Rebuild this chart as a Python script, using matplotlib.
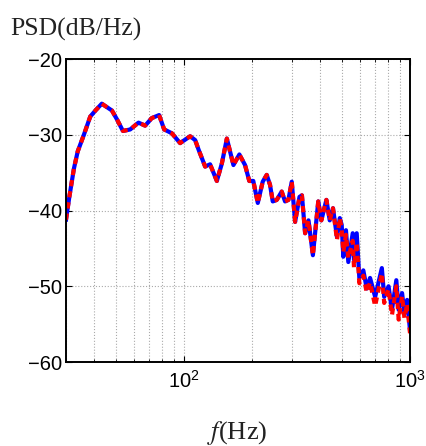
import numpy as np
import matplotlib
matplotlib.use("Agg")
import matplotlib.pyplot as plt
from matplotlib.ticker import LogLocator, FixedLocator, NullFormatter

plt.rcParams["font.family"] = ["Liberation Sans", "DejaVu Sans"]
plt.rcParams["mathtext.fontset"] = "custom"
plt.rcParams["mathtext.rm"] = "Liberation Sans"
plt.rcParams["mathtext.it"] = "Liberation Sans:italic"

# frequency (Hz) and PSD (dB/Hz)
freq_hz = [30.0, 31.0, 32.5, 33.8, 36.0, 38.4, 40.5, 43.2, 47.9, 50.5,
           53.6, 57.7, 62.8, 67.2, 71.9, 77.5, 81.6, 88.2, 96.0, 106.3,
           111.9, 116.0, 123.9, 130.3, 139.6, 146.9, 154.6, 165.3, 175.6, 186.1,
           194.3, 202.4, 211.9, 222.8, 232.1, 240.0, 246.8, 257.1, 270.4, 279.8,
           289.5, 299.6, 310.0, 324.2, 332.3, 343.3, 355.3, 371.6, 392.5, 405.0,
           426.4, 441.2, 456.1, 475.0, 488.9, 498.5, 506.6, 520.6, 533.2, 557.6,
           565.0, 580.8, 596.6, 621.4, 643.3, 665.5, 700.9, 750.5, 768.6, 803.5,
           832.0, 869.8, 890.7, 922.4, 944.8, 971.2, 1000.0]

psd_blue = [-41.2, -38.3, -34.5, -32.2, -30.0, -27.6, -26.8, -25.9, -26.8, -28.0,
            -29.5, -29.3, -28.4, -28.8, -27.8, -27.4, -29.3, -29.8, -31.1, -30.2,
            -30.7, -32.0, -34.2, -33.9, -36.1, -33.8, -30.5, -34.0, -32.6, -34.0,
            -36.1, -36.1, -39.0, -36.2, -35.3, -36.6, -38.8, -38.6, -37.5, -38.8,
            -38.6, -36.2, -41.5, -38.2, -38.0, -43.0, -41.3, -45.9, -38.8, -41.3,
            -38.6, -41.3, -39.7, -43.5, -41.0, -41.9, -46.1, -42.6, -46.8, -43.0,
            -46.5, -43.0, -48.9, -47.9, -50.3, -48.9, -51.4, -47.6, -51.4, -50.0,
            -53.1, -49.2, -53.1, -50.9, -53.6, -51.8, -55.8]

psd_red = [-41.2, -38.3, -34.5, -32.2, -30.0, -27.6, -26.8, -25.9, -26.8, -28.0,
           -29.5, -29.3, -28.4, -28.8, -27.8, -27.4, -29.3, -29.8, -31.1, -30.2,
           -30.7, -32.0, -34.2, -33.9, -36.1, -33.8, -30.5, -34.0, -32.6, -34.0,
           -36.1, -36.1, -39.0, -36.2, -35.3, -36.6, -38.8, -38.6, -37.5, -38.8,
           -38.6, -36.2, -41.5, -38.2, -38.0, -43.0, -41.3, -45.9, -38.8, -41.3,
           -38.6, -41.3, -39.7, -43.9, -41.0, -42.5, -45.5, -43.2, -46.3, -44.0,
           -47.5, -44.2, -49.6, -48.6, -50.8, -49.5, -52.6, -48.3, -52.2, -50.4,
           -53.8, -50.0, -54.4, -51.3, -54.2, -52.3, -56.2]

fig = plt.figure(figsize=(4.27, 4.46), dpi=100)
ax = fig.add_axes([0.1546, 0.1883, 0.8056, 0.6794])

ax.semilogx(freq_hz, psd_blue, color="#0000ff", lw=3.0, solid_joinstyle="round")
ax.semilogx(freq_hz, psd_red, color="#ff0000", lw=3.0, dashes=(1.5, 1.2))

ax.set_xlim(30, 1000)
ax.set_ylim(-60, -20)
ax.set_yticks([-60, -50, -40, -30, -20])
ax.xaxis.set_major_locator(FixedLocator([100, 1000]))
ax.xaxis.set_minor_locator(LogLocator(base=10, subs=np.arange(2, 10), numticks=10))
ax.xaxis.set_minor_formatter(NullFormatter())
ax.set_xticklabels([r"$10^2$", r"$10^3$"])

ax.grid(True, which="major", ls=":", color="#aaaaaa", lw=0.8)
ax.grid(True, which="minor", axis="x", ls=":", color="#aaaaaa", lw=0.8)
ax.tick_params(which="both", direction="in", top=True, right=True, labelsize=14.5)
ax.tick_params(axis="x", pad=6)
ax.tick_params(axis="y", pad=3)
ax.tick_params(which="major", length=4, width=0.8)
ax.tick_params(which="minor", length=2.5, width=0.6)
for sp in ax.spines.values():
    sp.set_linewidth(1.4)

fig.text(0.023, 1 - 36 / 446, "PSD(dB/Hz)", family="Liberation Serif", fontsize=18.5,
         color="#222222", va="baseline")
fig.text(0.555, 1 - 439 / 446, r"$f$(Hz)", family="Liberation Serif", fontsize=19,
         math_fontfamily="stix", color="#222222", ha="center", va="baseline")

fig.savefig("out.png", dpi=100)
